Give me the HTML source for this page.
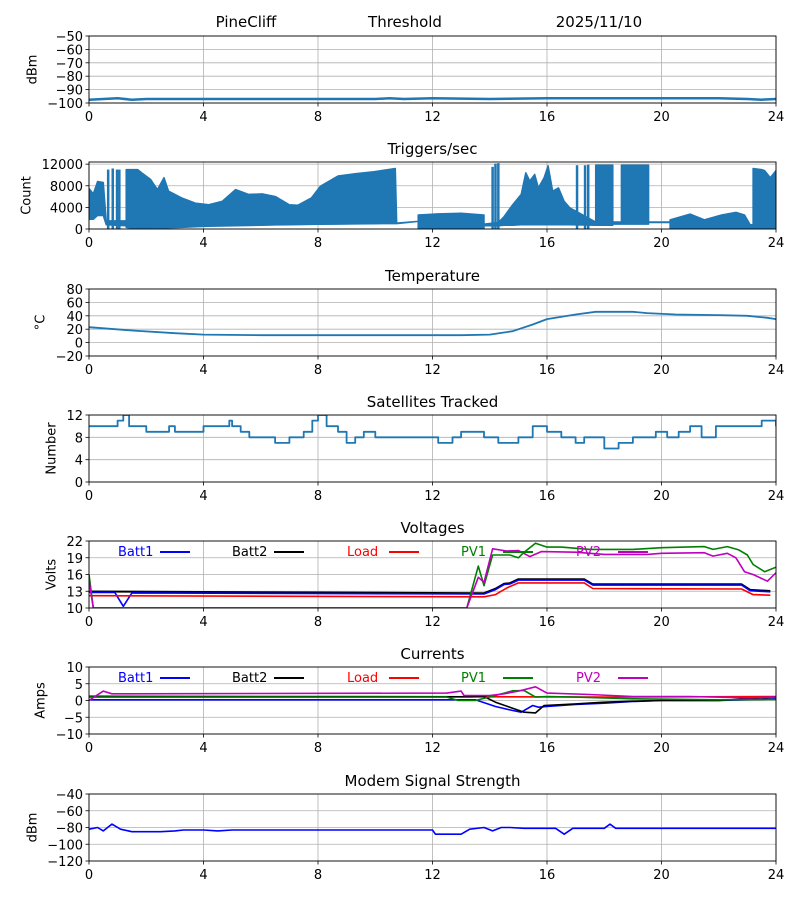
<!DOCTYPE html>
<html><head><meta charset="utf-8"><style>
body{margin:0;background:#fff}
svg{display:block;font-family:"DejaVu Sans","Liberation Sans",sans-serif}
</style></head><body>
<svg id="c" width="800" height="900" xmlns="http://www.w3.org/2000/svg"></svg>
<script>
// ---- data ----
const xTicks=[0,4,8,12,16,20,24];
const sigT=[0,0.5,1,1.5,2,4,6,8,10,10.5,11,12,14,16,18,20,22,23,23.5,24];
const sigV=[-97.5,-97,-96.5,-97.5,-97,-97,-97,-97,-97,-96.5,-97,-96.5,-97,-96.5,-96.5,-96.5,-96.5,-97,-97.5,-97];
const trigT=[0,0.15,0.3,0.5,0.6,1.3,1.3,1.7,1.84,2.15,2.39,2.62,2.78,3.24,3.71,4.18,4.65,5.12,5.58,6.05,6.52,6.99,7.3,7.77,8.08,8.7,9.33,9.95,10.7,10.75,11.5,11.5,12.2,13.0,13.8,13.8,14.3,14.5,14.8,15.1,15.26,15.4,15.57,15.7,15.9,16.04,16.2,16.4,16.6,16.8,17.7,17.7,18.3,18.3,18.6,18.6,19.55,19.55,20.3,20.3,21.0,21.5,22.1,22.6,22.9,23.1,23.2,23.2,23.5,23.6,23.8,24];
const trigHi=[7500,6500,8800,8600,1500,1500,11000,11000,10400,9200,7300,9500,7000,5750,4800,4500,5100,7300,6400,6500,6000,4500,4400,5750,7900,9800,10250,10600,11200,1100,1400,2600,2800,2900,2600,900,1200,2300,4500,6400,10400,8900,10100,7600,9500,11700,7000,7600,5100,3900,1300,11800,11800,1300,1300,11800,11800,1300,1300,1700,2750,1700,2600,3100,2600,800,800,11200,11000,10800,9500,10800];
const trigLo=[1800,1800,2500,2500,800,600,300,50,80,120,160,200,240,300,400,500,550,600,650,700,750,800,820,860,880,900,950,980,1000,1000,1400,0,0,0,0,600,600,700,700,800,800,800,800,800,800,800,800,800,800,800,700,700,700,900,900,900,900,1200,1200,0,0,0,0,0,0,0,0,0,0,0,0,0];
const spikeT=[0.67,0.83,0.98,1.06,14.1,14.2,14.3,17.05,17.33,17.44];
const spikeV=[11000,11200,11000,11000,11500,12100,12200,11800,11800,11900];
const tempT=[0,1.5,3,4,6,13,14,14.8,15.5,16,17,17.7,19,19.5,20.5,22,23,23.7,24];
const tempV=[23,18,14,12,11,11,12,17,27,35,42,46,46,44,42,41,40,37,35];
const satT=[0,1.0,1.2,1.4,2.0,2.8,3.0,4.0,4.9,5.0,5.3,5.6,6.5,7.0,7.5,7.8,8.0,8.3,8.7,9.0,9.3,9.6,10,12.2,12.7,13.0,13.8,14.3,15,15.5,16,16.5,17,17.3,18,18.5,19,19.8,20.2,20.6,21,21.4,21.9,23.5,24];
const satV=[10,11,12,10,9,10,9,10,11,10,9,8,7,8,9,11,12,10,9,7,8,9,8,7,8,9,8,7,8,10,9,8,7,8,6,7,8,9,8,9,10,8,10,11,10];
const vBatt1T=[0,0.9,1.2,1.5,13.8,14.2,14.5,14.7,15.0,17.3,17.6,22.8,23.1,23.8];
const vBatt1=[12.8,12.8,10.3,12.7,12.5,13.3,14.2,14.3,15.0,15.0,14.1,14.1,13.1,12.9];
const vBatt2T=[0,13.8,14.2,14.5,14.7,15.0,17.3,17.6,22.8,23.1,23.8];
const vBatt2=[12.95,12.65,13.45,14.35,14.45,15.15,15.15,14.25,14.25,13.25,13.05];
const vLoadT=[0,13.8,14.2,14.6,15.0,17.3,17.6,22.8,23.2,23.8];
const vLoad=[12.2,12.0,12.4,13.6,14.5,14.5,13.5,13.4,12.4,12.3];
const vPv1T=[0,0.15,13.2,13.6,13.8,14.1,14.7,15.0,15.2,15.6,16.0,16.5,17.5,19,20,21.5,21.8,22.3,22.7,23.0,23.2,23.6,24];
const vPv1=[16,10,10,17.5,14,19.5,19.5,19.0,20.0,21.6,20.9,20.9,20.5,20.5,20.8,21.0,20.5,21.0,20.4,19.5,17.8,16.5,17.3];
const vPv2T=[0,0.15,13.2,13.6,13.8,14.1,14.6,15.0,15.4,15.8,17,18,19.5,20,21.5,21.8,22.3,22.6,22.9,23.2,23.7,24];
const vPv2=[15,10,10,15.5,14.6,20.6,20.2,20.3,19.2,20.1,20.0,19.6,19.6,19.8,19.9,19.3,19.8,19.0,16.5,16.0,14.8,16.3];
const cBatt1T=[0,13.5,14.2,14.8,15.1,15.5,15.7,16,17,18,19,20,22,23.5,24];
const cBatt1=[0.2,0.2,-1.8,-3,-3.5,-1.5,-2,-1.8,-1.2,-0.8,-0.3,0,0,0.3,0.5];
const cBatt2T=[0,13.3,13.8,14.2,14.7,15.2,15.6,15.9,17,18,19,20,22,23,24];
const cBatt2=[1.1,1.1,1.2,-0.5,-2,-3.5,-3.7,-1.5,-1.0,-0.5,-0.2,0,0,0.5,1.0];
const cLoadT=[0,14,18,24];
const cLoad=[1.3,1.1,1.0,1.2];
const cPv1T=[0,12.5,12.9,13.5,14.2,14.8,15.2,15.6,16,17,19,22,24];
const cPv1=[1.0,1.0,0,0,1.5,2.9,3.0,1.0,1.2,1.0,0.5,0.2,0.3];
const cPv2T=[0,0.5,0.8,12.5,13.0,13.1,14,14.5,15.0,15.6,16,17.5,19,21,23,24];
const cPv2=[0,2.8,2.0,2.2,2.8,1.5,1.5,2.0,2.8,4.1,2.2,1.8,1.2,1.2,0.8,1.0];
const modT=[0,0.3,0.5,0.8,1.1,1.5,2.5,3,3.3,4,4.5,5,12,12.1,13,13.3,13.8,14.1,14.4,14.7,15.2,16.3,16.6,16.9,18,18.2,18.4,24];
const modV=[-82,-80,-84,-76,-82,-85,-85,-84,-83,-83,-84,-83,-83,-88,-88,-82,-80,-84,-80,-80,-81,-81,-88,-81,-81,-76,-81,-81];

// ---- layout ----
const svg=document.getElementById('c');
const NS='http://www.w3.org/2000/svg';
const L=89,R=776,H=67,FS=13,TFS=15;
function el(tag,attrs,parent){const e=document.createElementNS(NS,tag);for(const k in attrs)e.setAttribute(k,attrs[k]);(parent||svg).appendChild(e);return e;}
function xs(h){return L+(R-L)*h/24;}
function mkY(top,lo,hi){return v=>top+H-(v-lo)/(hi-lo)*H;}
function path(T,V,ys){return T.map((t,i)=>(i?'L':'M')+xs(t).toFixed(1)+','+ys(V[i]).toFixed(1)).join('');}
function fmt(v){return v<0?'\u2212'+(-v):String(v);}

function panel(name,top,lo,hi,yt,ylab,title){
  const g=el('g',{});
  
  
  const ys=mkY(top,lo,hi);
  xTicks.forEach(t=>{const l=el('line',{x1:xs(t),x2:xs(t),y1:top,y2:top+H,stroke:'#b0b0b0','stroke-width':0.8},g);
    
    el('line',{x1:xs(t),x2:xs(t),y1:top+H,y2:top+H+3.5,stroke:'#000','stroke-width':0.8},g);
    const tx=el('text',{x:xs(t),y:top+H+18,'font-size':FS,'text-anchor':'middle'},g);tx.textContent=t;
    });
  let maxW=0;
  yt.forEach(v=>{const y=ys(v);
    const l=el('line',{x1:L,x2:R,y1:y,y2:y,stroke:'#b0b0b0','stroke-width':0.8},g);
    
    el('line',{x1:L-3.5,x2:L,y1:y,y2:y,stroke:'#000','stroke-width':0.8},g);
    const tx=el('text',{x:L-6,y:y+5,'font-size':FS,'text-anchor':'end'},g);tx.textContent=fmt(v);
    
    try{maxW=Math.max(maxW,tx.getComputedTextLength());}catch(e){}});
  if(!maxW)maxW=37;
  const yl=el('text',{x:0,y:0,'font-size':FS,'text-anchor':'middle',transform:`translate(${L-6-maxW-11},${top+H/2}) rotate(-90)`},g);
  yl.textContent=ylab;
  if(title){const tt=el('text',{x:(L+R)/2,y:top-8,'font-size':TFS,'text-anchor':'middle'},g);tt.textContent=title;
    }
  const cp='cp'+name;const d=el('clipPath',{id:cp},g);el('rect',{x:L,y:top,width:R-L,height:H},d);
  const data=el('g',{'clip-path':`url(#${cp})`},g);
  
  g._frame=()=>{const f=el('rect',{x:L,y:top,width:R-L,height:H,fill:'none',stroke:'#000','stroke-width':0.9},g);
    };
  return {g,ys,data,top};
}
function line(p,T,V,color,w,name){const e=el('path',{d:path(T,V,p.ys),fill:'none',stroke:color,'stroke-width':w,'stroke-linejoin':'round'},p.data);
  }

// header
[['PineCliff',246],['Threshold',405],['2025/11/10',599]].forEach(([s,x])=>{const t=el('text',{x,y:27,'font-size':TFS,'text-anchor':'middle'});t.textContent=s;
  });

const tops=[36,162,289,415,541,667,794];
let p=panel('signal',tops[0],-100,-50,[-50,-60,-70,-80,-90,-100],'dBm','');
line(p,sigT,sigV,'#1f77b4',2.5,'signal-line');p.g._frame();

p=panel('triggers',tops[1],0,12400,[0,4000,8000,12000],'Count','Triggers/sec');
{const pts=trigT.map((t,i)=>xs(t).toFixed(1)+','+p.ys(trigHi[i]).toFixed(1)).concat(trigT.map((t,i)=>xs(t).toFixed(1)+','+p.ys(trigLo[i]).toFixed(1)).reverse());
 const poly=el('polygon',{points:pts.join(' '),fill:'#1f77b4',stroke:'#1f77b4','stroke-width':1.5,'stroke-linejoin':'round'},p.data);
 
 spikeT.forEach((t,i)=>{const s=el('line',{x1:xs(t),x2:xs(t),y1:p.ys(0),y2:p.ys(spikeV[i]),stroke:'#1f77b4','stroke-width':2.5},p.data);
  });}
p.g._frame();

p=panel('temperature',tops[2],-20,80,[80,60,40,20,0,-20],'°C','Temperature');
line(p,tempT,tempV,'#1f77b4',1.8,'temperature-line');p.g._frame();

p=panel('satellites',tops[3],0,12,[12,8,4,0],'Number','Satellites Tracked');
{const T=[],V=[];satT.forEach((t,i)=>{if(i){T.push(t);V.push(satV[i-1]);}T.push(t);V.push(satV[i]);});
 line(p,T,V,'#1f77b4',1.8,'satellites-line');}
p.g._frame();

const cols=['#0000ff','#000000','#ff0000','#008000','#bf00bf'];
const names=['Batt1','Batt2','Load','PV1','PV2'];
const lx=[118,232,347,461,576];
function legend(p){names.forEach((n,i)=>{const t=el('text',{x:lx[i],y:p.top+15,'font-size':FS,fill:cols[i]},p.g);t.textContent=n;
  
  el('line',{x1:lx[i]+42,x2:lx[i]+72,y1:p.top+11,y2:p.top+11,stroke:cols[i],'stroke-width':2},p.g);});}

p=panel('voltages',tops[4],10,22,[22,19,16,13,10],'Volts','Voltages');
line(p,vBatt2T,vBatt2,cols[1],2,'batt2-voltage');line(p,vBatt1T,vBatt1,cols[0],1.6,'batt1-voltage');
line(p,vLoadT,vLoad,cols[2],1.6,'load-voltage');line(p,vPv1T,vPv1,cols[3],1.6,'pv1-voltage');line(p,vPv2T,vPv2,cols[4],1.6,'pv2-voltage');
legend(p);p.g._frame();

p=panel('currents',tops[5],-10,10,[10,5,0,-5,-10],'Amps','Currents');
line(p,cLoadT,cLoad,cols[2],1.6,'load-current');line(p,cBatt1T,cBatt1,cols[0],1.6,'batt1-current');
line(p,cBatt2T,cBatt2,cols[1],1.6,'batt2-current');line(p,cPv1T,cPv1,cols[3],1.6,'pv1-current');line(p,cPv2T,cPv2,cols[4],1.6,'pv2-current');
legend(p);p.g._frame();

p=panel('modem',tops[6],-120,-40,[-40,-60,-80,-100,-120],'dBm','Modem Signal Strength');
line(p,modT,modV,'#0000ff',1.6,'modem-line');p.g._frame();
</script>
</body></html>
